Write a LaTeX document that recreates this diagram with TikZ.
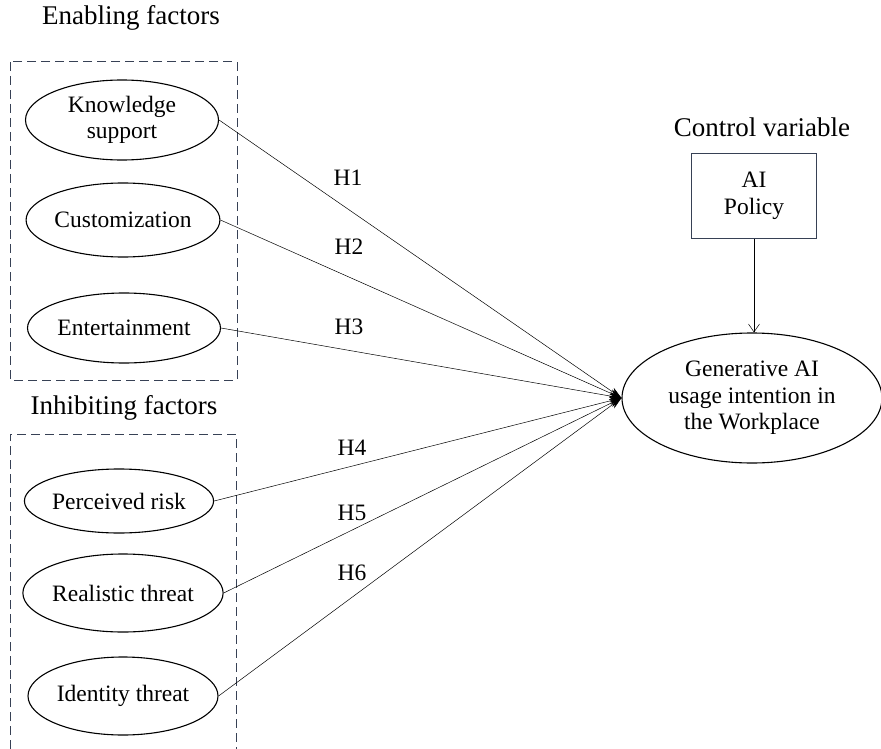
\documentclass[tikz,border=0pt]{standalone}
\usepackage{fontspec}
\setmainfont{Liberation Serif}
\usetikzlibrary{shapes,arrows.meta}
\definecolor{boxline}{RGB}{55,65,85}

\begin{document}
\begin{tikzpicture}[x=1pt,y=-1pt, every node/.style={font=\fontsize{23.5}{26.5}\selectfont},
  factor/.style={draw=black, ellipse, line width=1.1pt, minimum width=193pt, minimum height=76pt, inner sep=0pt, align=center},
  hyp/.style={-{Stealth[length=12pt,width=8pt]}, line width=0.5pt},
  group/.style={draw=boxline, line width=1pt, dash pattern=on 9pt off 5pt}]
\useasboundingbox (0,0) rectangle (881,749);

\node[font=\fontsize{27}{30}\selectfont] (enab) at (131,18) {Enabling factors};
\node[font=\fontsize{27}{30}\selectfont] (inhib) at (124,408) {Inhibiting factors};
\node[font=\fontsize{27}{30}\selectfont] (ctrl) at (762,127) {Control variable};

\draw[group] (10,62) rectangle (237,380);
\draw[group] (10,749) -- (10,434) -- (236,434) -- (236,749);

\node[factor, minimum height=80pt] (ks) at (122,120) {Knowledge\\support};
\node[factor, minimum height=74pt] (cu) at (123,220) {Customization};
\node[factor, minimum height=70pt] (en) at (124,328) {Entertainment};
\node[factor, minimum width=188pt, minimum height=64pt] (pr) at (119,501) {Perceived risk};
\node[factor, minimum height=78pt] (rt) at (123,593) {Realistic threat};
\node[factor, minimum width=190pt, minimum height=78pt] (it) at (123,696) {Identity threat};

\node[factor, minimum width=260pt, minimum height=130pt] (gai) at (752,398) {Generative AI\\usage intention in\\the Workplace};
\node[draw=boxline, line width=1pt, minimum width=125pt, minimum height=85pt, align=center] (pol) at (754,196) {AI\\Policy};

\draw[-{Straight Barb[length=8pt,width=11pt]}, line width=0.5pt] (pol) -- (pol |- gai.north);

\draw[hyp] (ks.east) -- (gai.west);
\draw[hyp] (cu.east) -- (gai.west);
\draw[hyp] (en.east) -- (gai.west);
\draw[hyp] (pr.east) -- (gai.west);
\draw[hyp] (rt.east) -- (gai.west);
\draw[hyp] (it.east) -- (gai.west);

\node (h1) at (348,178) {H1};
\node (h2) at (349,247) {H2};
\node (h3) at (349,327) {H3};
\node (h4) at (352,448) {H4};
\node (h5) at (352,513) {H5};
\node (h6) at (352,573) {H6};
\end{tikzpicture}
\end{document}
